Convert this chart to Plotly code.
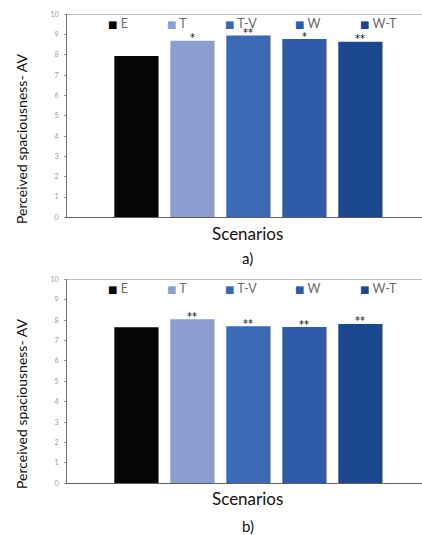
import plotly.graph_objects as go

W, H = 422, 535

series = ["E", "T", "T-V", "W", "W-T"]
colors = ["#050505", "#8a9fcf", "#3b6ab4", "#2d5ba8", "#1b478c"]
values_a = [7.95, 8.70, 8.95, 8.78, 8.65]
values_b = [7.65, 8.04, 7.70, 7.66, 7.81]
stars_a = ["", "*", "**", "*", "**"]
stars_b = ["", "**", "**", "**", "**"]
y_ticks = list(range(0, 11))
x_title = "Scenarios"
y_title = "Perceived spaciousness- AV"
panel_labels = ["a)", "b)"]

FONT = "Lato"
GROUP_GAP = 0.21  # bargroupgap

def py(pix):
    return 1 - pix / H

def px(pix):
    return pix / W

fig = go.Figure()

panels = [
    (values_a, stars_a, "x", "y"),
    (values_b, stars_b, "x2", "y2"),
]
ann = []
n = len(series)
for vals, stars, xa, ya in panels:
    for i, (name, c, v, s) in enumerate(zip(series, colors, vals, stars)):
        fig.add_trace(go.Bar(
            x=[0], y=[v], name=name, marker=dict(color=c, line=dict(width=0)),
            xaxis=xa, yaxis=ya, showlegend=False,
        ))
        if s:
            # significance stars above each bar (group slot centre on the category axis)
            ann.append(dict(x=(i - (n - 1) / 2) / n, y=v, xref=xa, yref=ya,
                            text=s, showarrow=False, xanchor="center", yanchor="bottom",
                            yshift=-3.5, borderpad=0,
                            font=dict(size=10, color="#111", family="DejaVu Sans")))

xdom = [px(67), 1]
ydom_a = [py(217.3), py(14.3)]
ydom_b = [py(483.3), py(279.3)]

xcommon = dict(range=[-0.648, 0.620], showticklabels=False, ticks="", showgrid=False,
               zeroline=False, showline=True, linecolor="#606060", linewidth=1.3,
               fixedrange=True, automargin=False)
ycommon = dict(range=[0, 10], tickvals=y_ticks, ticks="outside", ticklen=2, tickcolor="#9a9a9a",
               tickfont=dict(size=7, color="#9a9a9a", family=FONT), showgrid=False, zeroline=False,
               showline=True, linecolor="#707070", linewidth=1, automargin=False, ticklabelstandoff=4)

fig.update_layout(
    width=W, height=H, margin=dict(l=0, r=0, t=0, b=0),
    paper_bgcolor="white", plot_bgcolor="white",
    barmode="group", bargap=0, bargroupgap=GROUP_GAP,
    xaxis=dict(domain=xdom, anchor="y", **xcommon),
    yaxis=dict(domain=ydom_a, anchor="x", **ycommon),
    xaxis2=dict(domain=xdom, anchor="y2", **xcommon),
    yaxis2=dict(domain=ydom_b, anchor="x2", **ycommon),
    showlegend=False,
)

# top frame lines at y=10
for ya in ["y", "y2"]:
    fig.add_shape(type="line", xref="paper", yref=ya, x0=xdom[0], x1=1, y0=10, y1=10,
                  line=dict(color="#a8a8a8", width=1.2))

legend_x = [107, 166, 224, 294, 359]
for leg_y, ty, sy in [(23.5, 139, 233), (288.5, 404, 498)]:
    for name, c, lx in zip(series, colors, legend_x):
        ann.append(dict(
            x=px(lx), y=py(leg_y), xref="paper", yref="paper", xanchor="left", yanchor="middle",
            showarrow=False, borderpad=0,
            text=f"<span style='color:{c};font-family:DejaVu Sans;font-size:10px'>■</span> {name}",
            font=dict(size=12.5, color="#6a6a6a", family=FONT),
        ))
    ann.append(dict(x=px(21), y=py(ty), xref="paper", yref="paper", showarrow=False,
                    text=y_title, textangle=-90, xanchor="center", yanchor="middle",
                    font=dict(size=14, color="#111", family=FONT)))
    ann.append(dict(x=px(248), y=py(sy), xref="paper", yref="paper", showarrow=False,
                    text=x_title, xanchor="center", yanchor="middle",
                    font=dict(size=17, color="#111", family=FONT)))
for (lbl, ly) in zip(panel_labels, [258, 526]):
    ann.append(dict(x=px(248), y=py(ly), xref="paper", yref="paper", showarrow=False,
                    text=lbl, xanchor="center", yanchor="middle",
                    font=dict(size=15, color="#111", family=FONT)))
fig.update_layout(annotations=ann)

fig.write_html("out.html")
